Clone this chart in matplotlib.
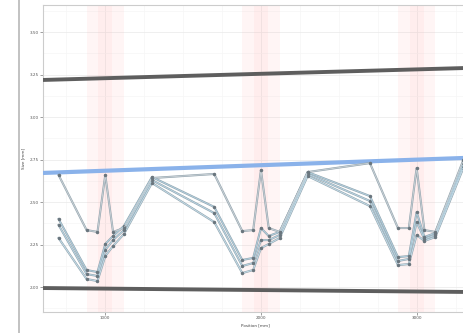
import numpy as np
import matplotlib.pyplot as plt
from matplotlib.lines import Line2D
from matplotlib.ticker import MultipleLocator

# positions along the part [mm]
positions = [700, 880, 950, 1000, 1050, 1120, 1300,
             1700, 1880, 1950, 2000, 2050, 2120, 2300,
             2700, 2880, 2950, 3000, 3050, 3120, 3300]

series_a = [2.659, 2.335, 2.324, 2.659, 2.324, 2.347, 2.641,
            2.665, 2.329, 2.335, 2.688, 2.347, 2.324, 2.676,
            2.729, 2.347, 2.347, 2.700, 2.335, 2.324, 2.747]
series_b = [2.400, 2.100, 2.088, 2.253, 2.300, 2.359, 2.647,
            2.471, 2.159, 2.171, 2.347, 2.300, 2.324, 2.676,
            2.535, 2.176, 2.182, 2.441, 2.294, 2.318, 2.729]
series_c = [2.365, 2.076, 2.065, 2.218, 2.276, 2.335, 2.629,
            2.435, 2.124, 2.141, 2.276, 2.276, 2.306, 2.665,
            2.506, 2.153, 2.165, 2.382, 2.282, 2.306, 2.712]
series_d = [2.288, 2.047, 2.035, 2.182, 2.241, 2.312, 2.612,
            2.382, 2.082, 2.100, 2.229, 2.253, 2.288, 2.653,
            2.476, 2.129, 2.135, 2.306, 2.271, 2.294, 2.700]

# limit lines
limit_x = [600, 3300]
upper_limit = [3.218, 3.288]
nominal = [2.671, 2.759]
lower_limit = [1.994, 1.971]

# zones around the joints
joints = [1000, 2000, 3000]


def main():
    fig = plt.figure(figsize=(4.64, 3.33), dpi=100)
    ax = fig.add_axes([43 / 464, 21 / 333, 425 / 464, 307 / 333])

    for c in joints:
        ax.axvspan(c - 120, c + 120, color="#ffb0b0", alpha=0.12, lw=0)
        ax.axvspan(c - 45, c + 45, color="#ffb0b0", alpha=0.10, lw=0)

    ax.plot(limit_x, upper_limit, color="#5e5e5e", lw=2.8, zorder=3)
    ax.plot(limit_x, lower_limit, color="#5e5e5e", lw=2.8, zorder=3)
    ax.plot(limit_x, nominal, color="#8ab2ea", lw=3, zorder=3)

    for ys, col in [(series_d, "#c3dce8"), (series_c, "#b9d5e3"),
                    (series_b, "#b1cfde"), (series_a, "#c8d0d5")]:
        ax.plot(positions, ys, color="#93a4ae", lw=1.5, zorder=4)
        ax.plot(positions, ys, color=col, lw=0.7, zorder=5,
                marker="o", ms=1.5, mfc="#6a767e", mec="#6a767e")

    ax.set_xlim(600, 3330)
    ax.set_ylim(1.853, 3.659)
    ax.set_xticks(joints)
    ax.set_yticks(np.arange(2.0, 3.6, 0.25))
    ax.yaxis.set_major_formatter(plt.FormatStrFormatter("%.2f"))
    ax.xaxis.set_minor_locator(MultipleLocator(250))
    ax.yaxis.set_minor_locator(MultipleLocator(0.125))
    ax.grid(True, which="major", color="#ececec", lw=0.6)
    ax.grid(True, which="minor", color="#f6f6f6", lw=0.5)
    ax.set_axisbelow(True)
    ax.tick_params(labelsize=3, length=2, width=0.4, colors="#555555", pad=1)
    ax.tick_params(which="minor", length=0)
    for s in ax.spines.values():
        s.set_color("#cccccc")
        s.set_linewidth(0.8)

    ax.set_xlabel("Position [mm]", fontsize=3, color="#444444", labelpad=2)
    ax.set_ylabel("Size [mm]", fontsize=3, color="#444444", labelpad=3)

    fig.add_artist(Line2D([18.5 / 464, 18.5 / 464], [0, 1], color="#b8b8b8", lw=1.2))

    fig.savefig("out.png", dpi=100)


if __name__ == "__main__":
    main()
